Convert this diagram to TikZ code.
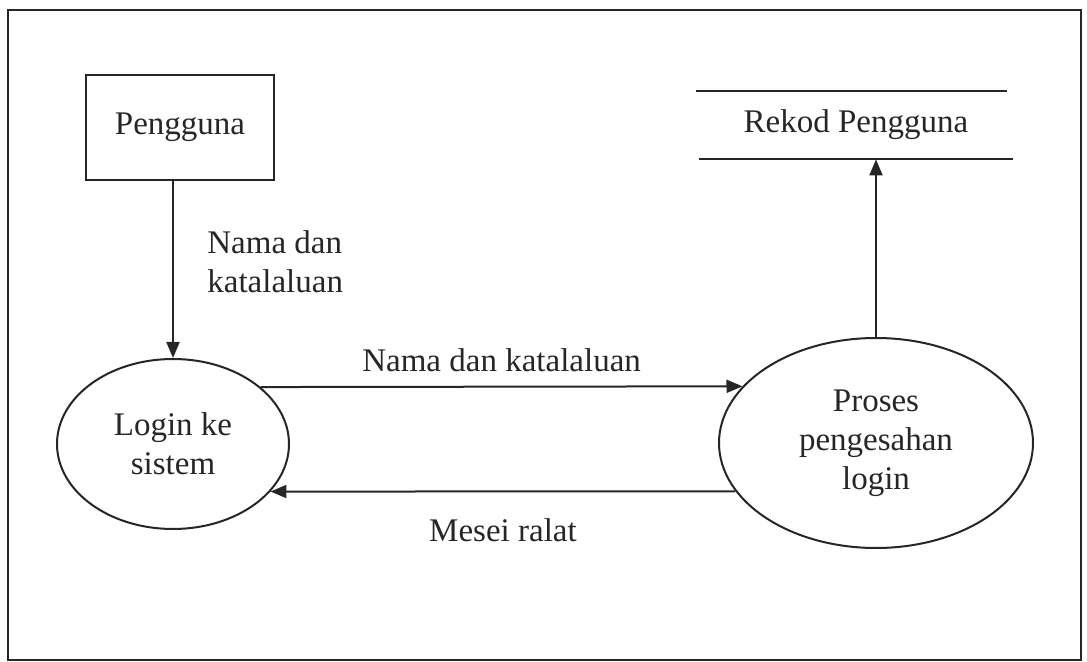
\documentclass[tikz,border=0pt]{standalone}
\usepackage{fontspec}
\setmainfont{Liberation Serif}
\usetikzlibrary{shapes.geometric,arrows.meta}
\begin{document}
\begin{tikzpicture}[x=0.5pt,y=-0.5pt,
  every node/.style={font=\fontsize{16.5}{19.5}\selectfont, text=black!85, inner sep=0pt},
  line/.style={line width=1pt, draw=black!85},
  flow/.style={line, -{Triangle[length=8pt,width=6.5pt]}},
  proc/.style={ellipse, line, align=center}]
\useasboundingbox (0,0) rectangle (1087,662);
\draw[line] (8,10) rectangle (1081,660);
\node[draw, line, minimum width=94pt, minimum height=52.5pt] (pengguna) at (180,127.5) {Pengguna};
\node[minimum width=157pt, minimum height=34pt] (rekod) at (856,125) {Rekod Pengguna};
\draw[line] ([xshift=-1.5pt]rekod.north west) -- ([xshift=-3pt]rekod.north east);
\draw[line] (rekod.south west) -- (rekod.south east);
\node[proc, minimum width=116pt, minimum height=85pt] (login) at (173,444) {Login ke\\sistem};
\node[proc, minimum width=157pt, minimum height=105pt] (proses) at (876,443) {Proses\\pengesahan\\login};
\draw[flow] (login.north |- pengguna.south) -- (login.north);
\node[anchor=west, align=left] (lbl1) at (207,262) {Nama dan\\katalaluan};
\draw[flow] (login.33.5) -- node[above=7pt] (lbl2) {Nama dan katalaluan} (proses.157.2);
\draw[flow] (proses.199.4) -- node[below=13pt] (lbl3) {Mesei ralat} (login.-26.6);
\draw[flow] (proses.north) -- (proses.north |- rekod.south);
\end{tikzpicture}
\end{document}
